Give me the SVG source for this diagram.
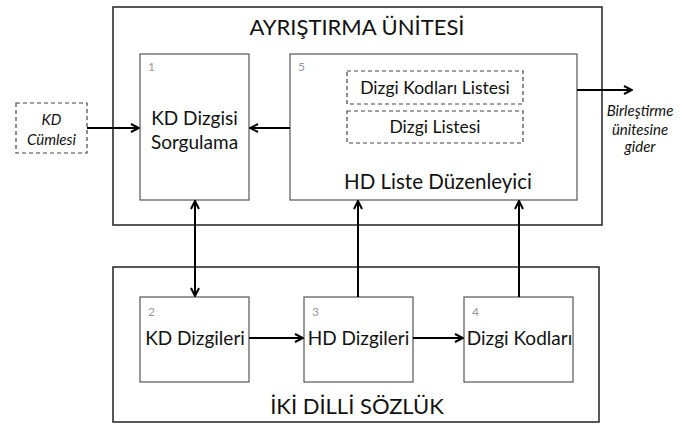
<svg xmlns="http://www.w3.org/2000/svg" width="696" height="425" viewBox="0 0 696 425">
<defs>
<marker id="ah" viewBox="0 0 10 10" refX="9" refY="5" markerWidth="10" markerHeight="10" markerUnits="userSpaceOnUse" orient="auto-start-reverse">
<path d="M1,1 L9,5 L1,9" fill="none" stroke="#000" stroke-width="2"/>
</marker>
<style>
.outer{fill:#fff;stroke:#222;stroke-width:1.5}
.box{fill:#fff;stroke:#555;stroke-width:1.2}
.dash{fill:#fff;stroke:#444;stroke-width:1.2;stroke-dasharray:4,3}
.t{font-family:Lato,"Open Sans","Liberation Sans",sans-serif;fill:#111;text-anchor:middle}
.big{font-size:22px}
.mid{font-size:19px}
.hd{font-size:20.5px}
.sm{font-size:17.5px}
.it{font-style:italic}
.num{font-family:Lato,"Liberation Sans",sans-serif;font-size:12px;fill:#999}
.c{fill:none;stroke:#000;stroke-width:2}
</style>
</defs>
<rect width="696" height="425" fill="#fff"/>
<g id="ayristirma">
<rect class="outer" x="113" y="7" width="489" height="218"/>
<text class="t big" x="357" y="35">AYRIŞTIRMA ÜNİTESİ</text>
</g>
<g id="sozluk">
<rect class="outer" x="113" y="267" width="486" height="155"/>
<text class="t big" x="357" y="414">İKİ DİLLİ SÖZLÜK</text>
</g>
<g id="kd-cumlesi">
<rect class="dash" x="16" y="103" width="71" height="50"/>
<text class="t it" x="51.5" y="125" font-size="15">KD</text>
<text class="t it" x="51.5" y="145" font-size="15">Cümlesi</text>
</g>
<g id="n1">
<rect class="box" x="140" y="54" width="109" height="146"/>
<text class="num" x="148" y="71">1</text>
<text class="t mid" x="194.5" y="125">KD Dizgisi</text>
<text class="t mid" x="194.5" y="149">Sorgulama</text>
</g>
<g id="n5">
<rect class="box" x="290" y="54" width="287" height="146"/>
<text class="num" x="298" y="71">5</text>
<text class="t hd" x="438" y="189">HD Liste Düzenleyici</text>
</g>
<g id="dizgi-kodlari-listesi">
<rect class="dash" x="347" y="71" width="176" height="33"/>
<text class="t sm" x="435" y="94">Dizgi Kodları Listesi</text>
</g>
<g id="dizgi-listesi">
<rect class="dash" x="347" y="111" width="176" height="32"/>
<text class="t sm" x="435" y="133">Dizgi Listesi</text>
</g>
<g id="n2">
<rect class="box" x="140" y="297" width="109" height="85"/>
<text class="num" x="148" y="316">2</text>
<text class="t mid" x="195" y="345">KD Dizgileri</text>
</g>
<g id="n3">
<rect class="box" x="304" y="297" width="109" height="85"/>
<text class="num" x="312" y="316">3</text>
<text class="t mid" x="358.5" y="345">HD Dizgileri</text>
</g>
<g id="n4">
<rect class="box" x="464" y="297" width="109" height="85"/>
<text class="num" x="472" y="316">4</text>
<text class="t mid" x="519.5" y="345">Dizgi Kodları</text>
</g>
<g id="out-label">
<text class="t it" x="640" y="116" font-size="15">Birleştirme</text>
<text class="t it" x="640" y="135" font-size="15">ünitesine</text>
<text class="t it" x="640" y="152" font-size="15">gider</text>
</g>
<g id="connectors">
<line class="c" x1="87" y1="128" x2="139" y2="128" marker-end="url(#ah)"/>
<line class="c" x1="290" y1="128" x2="250" y2="128" marker-end="url(#ah)"/>
<line class="c" x1="577" y1="90" x2="632" y2="90" marker-end="url(#ah)"/>
<line class="c" x1="195" y1="201" x2="195" y2="296" marker-start="url(#ah)" marker-end="url(#ah)"/>
<line class="c" x1="358" y1="297" x2="358" y2="201" marker-end="url(#ah)"/>
<line class="c" x1="519" y1="297" x2="519" y2="201" marker-end="url(#ah)"/>
<line class="c" x1="249" y1="338" x2="303" y2="338" marker-end="url(#ah)"/>
<line class="c" x1="413" y1="338" x2="463" y2="338" marker-end="url(#ah)"/>
</g>
</svg>
